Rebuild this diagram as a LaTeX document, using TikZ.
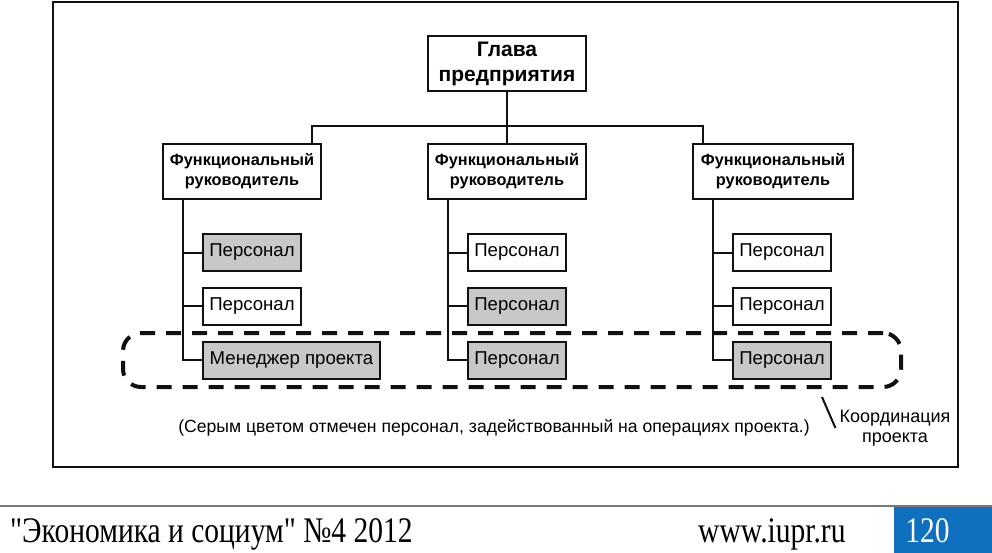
\documentclass[tikz,border=0pt]{standalone}
\usepackage{fontspec}
\setmainfont{Liberation Sans}
\newfontfamily\footfont[FakeStretch=0.82]{Liberation Serif}
\usetikzlibrary{positioning,calc}
\definecolor{ink}{HTML}{111111}
\definecolor{staffgray}{HTML}{C8C8C8}
\definecolor{rulegray}{HTML}{7A7A7A}
\definecolor{pageblue}{HTML}{1070C0}

\begin{document}
\begin{tikzpicture}[x=1pt, y=-1pt,
  headbox/.style={draw=ink, line width=2pt, fill=white,
                  minimum width=158pt, minimum height=55pt, align=center,
                  font=\bfseries\fontsize{21}{25}\selectfont, inner sep=2pt},
  funcbox/.style={draw=ink, line width=2pt, fill=white,
                  minimum width=158pt, minimum height=55pt, align=center,
                  font=\bfseries\fontsize{16.3}{20}\selectfont, inner sep=2pt},
  staffbox/.style={draw=ink, line width=2pt, fill=white,
                   minimum width=98pt, minimum height=37pt,
                   font=\fontsize{18.6}{22}\selectfont, inner sep=2pt},
  onproject/.style={fill=staffgray},
  link/.style={draw=ink, line width=2pt},
  note/.style={font=\fontsize{17.6}{20}\selectfont, align=center, inner sep=0pt},
  footnote/.style={font=\footfont\fontsize{36}{40}\selectfont, inner sep=0pt}
]
  \useasboundingbox (0,0) rectangle (992,553);
  \draw[ink, line width=2.5pt] (53,2) rectangle (958,467);

  % project coordination zone
  \node[draw=ink, dash pattern=on 15pt off 11pt, line width=4pt,
        rounded corners=18pt, minimum width=778pt, minimum height=54pt,
        inner sep=0pt] (coord) at (512,360) {};

  \node[headbox] (head) at (507,63.5) {Глава\\предприятия};
  \node[funcbox] (fl) at (242,171.5) {Функциональный\\руководитель};
  \node[funcbox] (fm) at (507,171.5) {Функциональный\\руководитель};
  \node[funcbox, minimum width=160pt] (fr) at (773,171.5) {Функциональный\\руководитель};

  \node[staffbox, onproject] (l1) at (252,252.5) {Персонал};
  \node[staffbox] (l2) at (252,306) {Персонал};
  \node[staffbox, onproject, minimum width=177pt] (l3) at (291.5,360) {Менеджер проекта};

  \node[staffbox] (m1) at (517,252.5) {Персонал};
  \node[staffbox, onproject] (m2) at (517,306) {Персонал};
  \node[staffbox, onproject] (m3) at (517,360) {Персонал};

  \node[staffbox] (r1) at (782,252.5) {Персонал};
  \node[staffbox] (r2) at (782,306) {Персонал};
  \node[staffbox, onproject] (r3) at (782,360) {Персонал};

  % bus from the head
  \coordinate (bus) at (507,126);
  \draw[link] ([xshift=-10pt]fl.north east) |- (bus) -| ([xshift=11pt]fr.north west);
  \draw[link] (head) -- (fm);

  \foreach \c in {l,m,r} {
    \coordinate (s\c) at ([xshift=20.5pt]f\c.south west);
    \draw[link] (s\c) |- (\c3.west);
    \foreach \i in {1,2}
      \draw[link] (\c\i.west) -- (\c\i.west -| s\c);
  }

  \node[note] (caption) at (494,428)
    {(Серым цветом отмечен персонал, задействованный на операциях проекта.)};
  \node[note, font=\fontsize{18}{20}\selectfont] (lbl) at (895,428) {Координация\\проекта};
  \coordinate (lead) at (822,397);
  \draw[ink, line width=2pt] (lead) -- ([xshift=-4pt]lbl.west);

  % page footer
  \draw[rulegray, line width=2pt] (0,506) -- (992,506);
  \fill[pageblue] (894,507) rectangle (992,553);
  \node[footnote, anchor=base west] (journal) at (10,542)
    {"Экономика и социум" №4 2012};
  \node[footnote, anchor=base west] (site) at (698,542) {www.iupr.ru};
  \node[footnote, anchor=base, text=white] (page) at (927.5,542) {120};
\end{tikzpicture}
\end{document}
